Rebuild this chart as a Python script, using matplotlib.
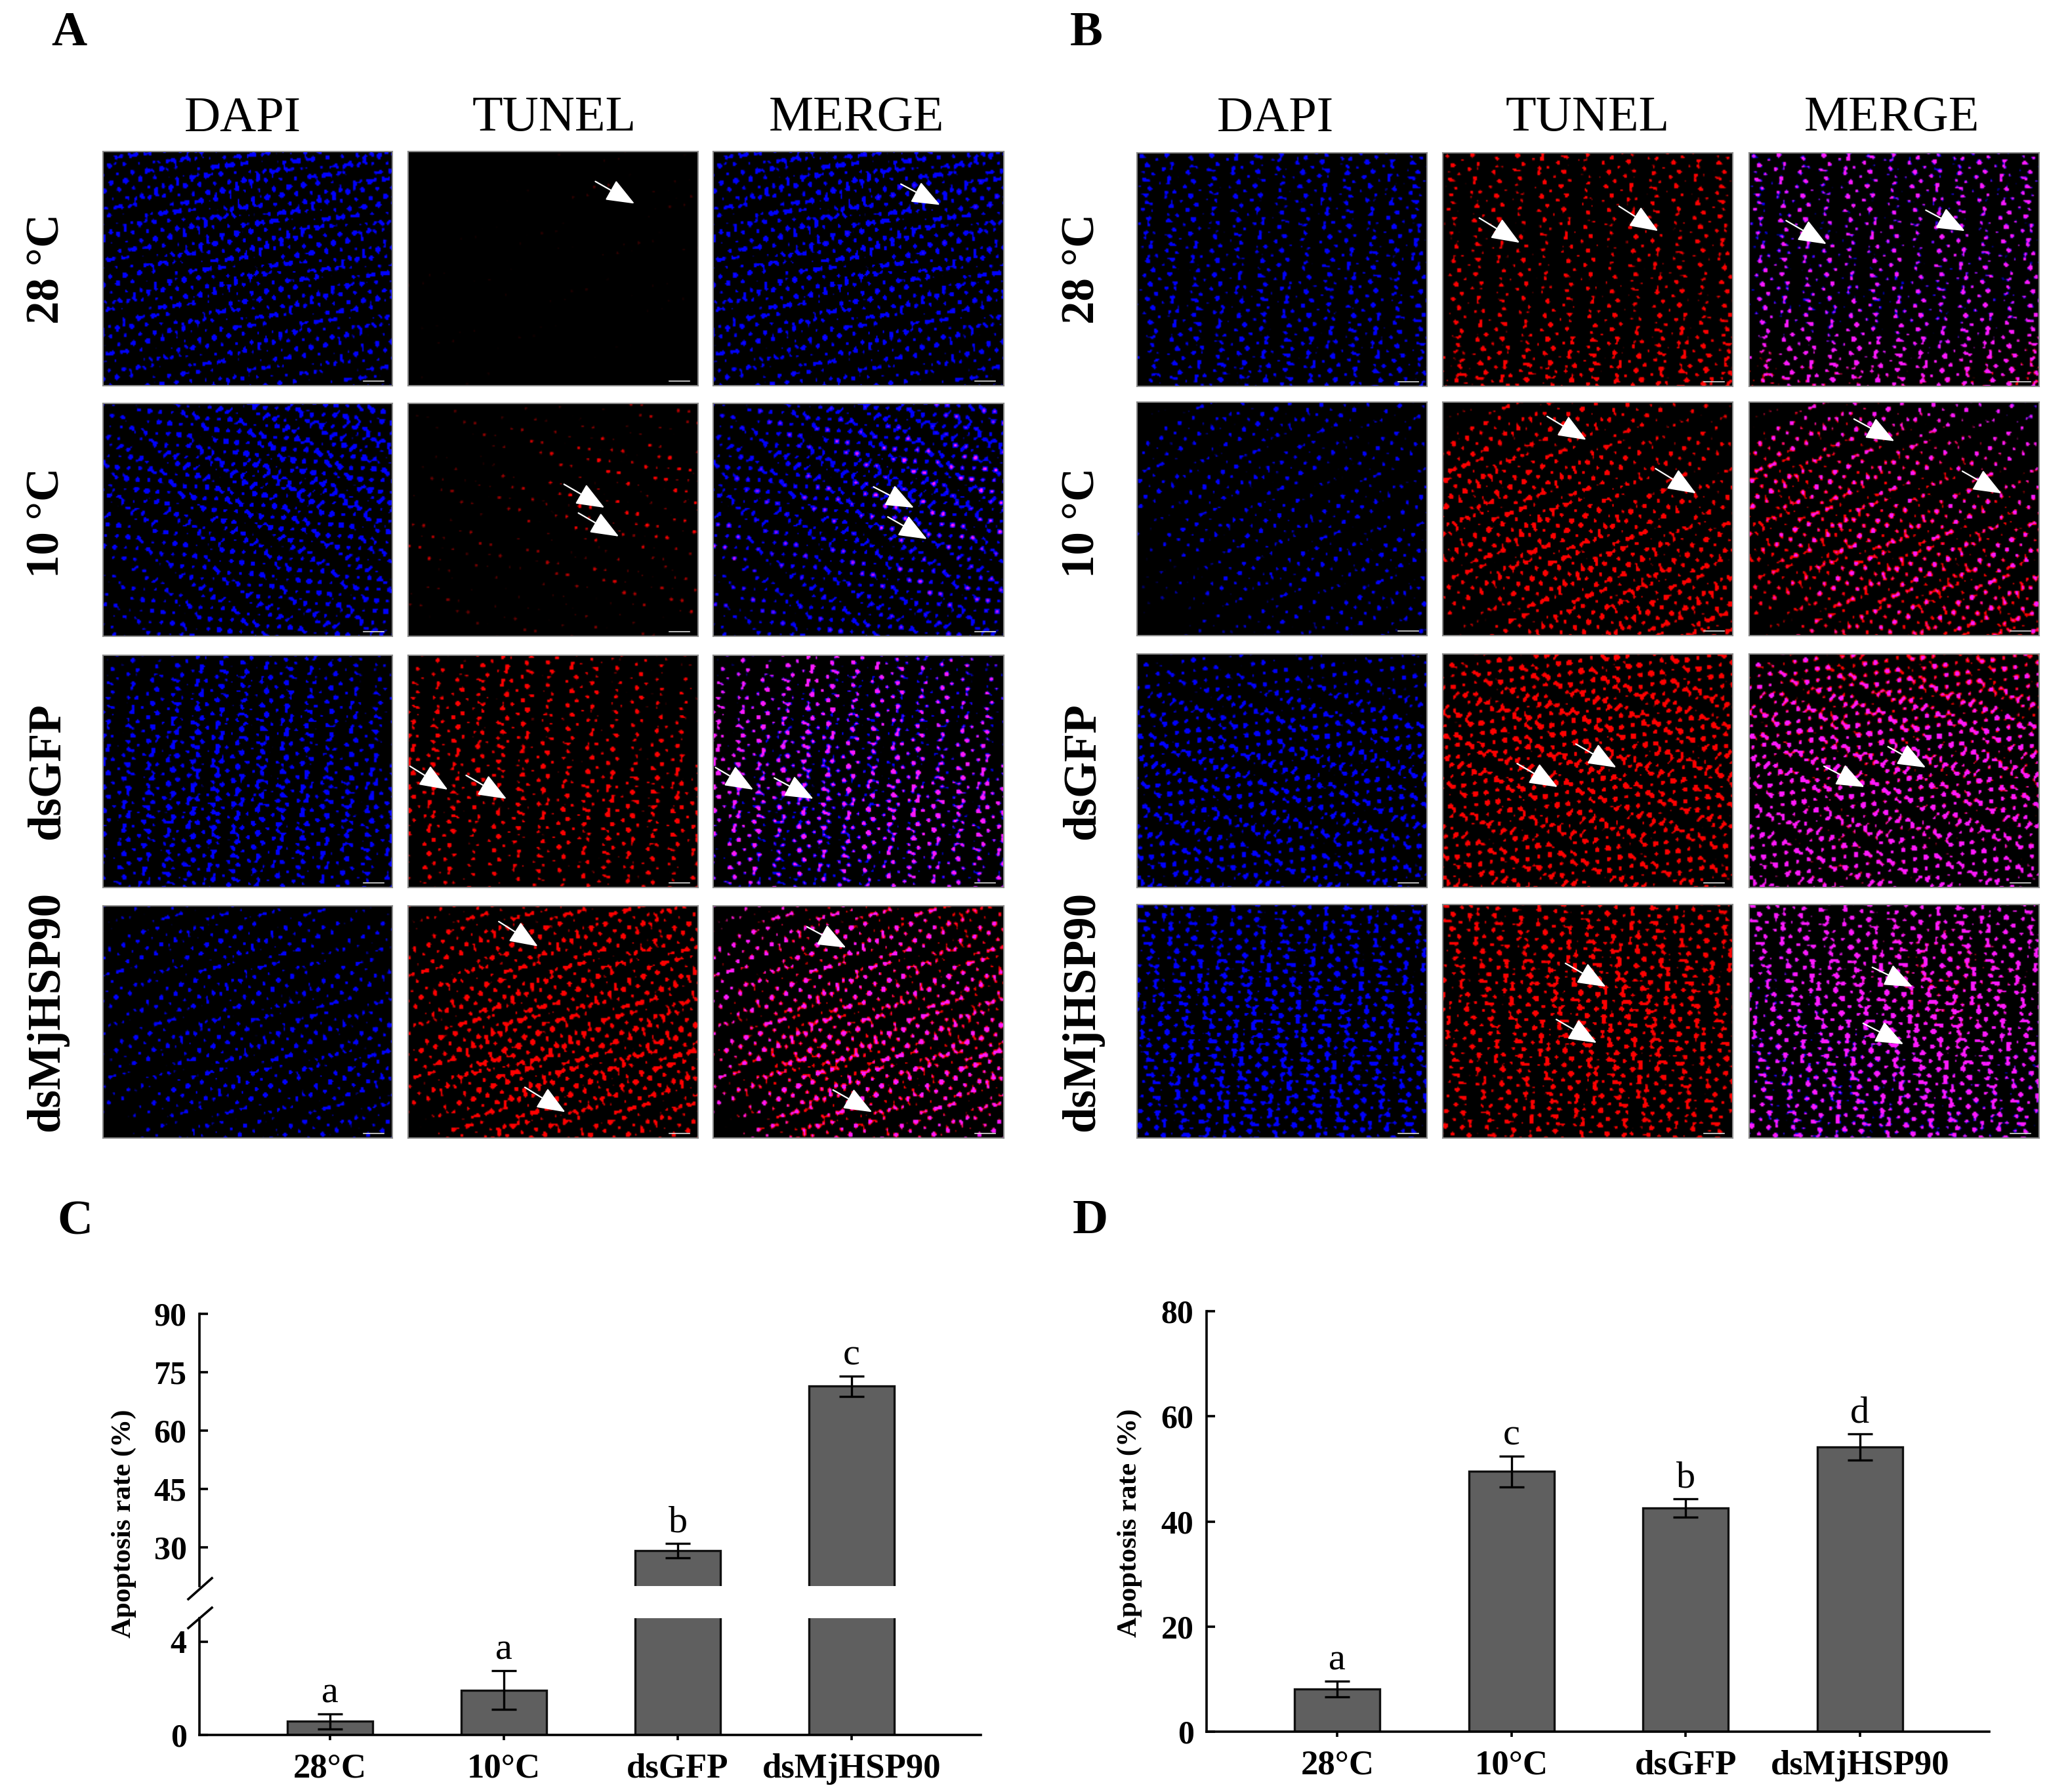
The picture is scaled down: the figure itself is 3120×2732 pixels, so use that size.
import numpy as np
import matplotlib
matplotlib.use("Agg")
import matplotlib.pyplot as plt

plt.rcParams['font.family'] = ['Liberation Serif', 'DejaVu Serif']

WIDTH = 3120
HEIGHT = 2732

# Bar chart values
groups = ["28°C", "10°C", "dsGFP", "dsMjHSP90"]
ratesC = [0.58, 1.92, 29.1, 71.4]
errorsC = [0.33, 0.82, 1.9, 2.6]
lettersC = ["a", "a", "b", "c"]
ratesD = [8.1, 49.5, 42.5, 54.2]
errorsD = [1.45, 2.9, 1.75, 2.5]
lettersD = ["a", "c", "b", "d"]

rowNames = ["28 °C", "10 °C", "dsGFP", "dsMjHSP90"]
columnNames = ["DAPI", "TUNEL", "MERGE"]

# Coarse signal level of each micrograph (4x4 blocks, top to bottom), estimated by eye
dapiA = [
    [[.35, .5, .5, .5], [.3, .5, .5, .4], [.35, .4, .4, .4], [.3, .3, .25, .25]],
    [[.1, .4, .5, .55], [.4, .5, .6, .55], [.2, .3, .4, .35], [.15, .35, .4, .45]],
    [[.1, .3, .35, .15], [.3, .5, .4, .3], [.35, .55, .5, .45], [.3, .4, .3, .25]],
    [[.1, .25, .2, .1], [.2, .25, .25, .2], [.15, .3, .3, .35], [.05, .2, .2, .2]],
]
tunelA = [
    [[0, 0, .03, .03], [0, .01, .02, .02], [.02, .01, .01, .01], [.01, .01, 0, 0]],
    [[.01, .05, .05, .06], [.03, .06, .12, .12], [.08, .04, .08, .08], [.02, .03, .05, .05]],
    [[.05, .3, .2, .08], [.3, .3, .2, .2], [.3, .25, .35, .35], [.2, .15, .2, .15]],
    [[.1, .3, .35, .35], [.25, .4, .4, .4], [.2, .65, .5, .55], [.03, .4, .3, .2]],
]
dapiB = [
    [[.3, .3, .35, .3], [.3, .25, .25, .3], [.3, .3, .3, .3], [.3, .35, .35, .3]],
    [[.05, .2, .2, .15], [.2, .2, .15, .15], [.05, .2, .2, .2], [0, .1, .15, .2]],
    [[.15, .15, .15, .15], [.4, .45, .45, .4], [.4, .4, .4, .4], [.4, .4, .4, .35]],
    [[.4, .35, .35, .35], [.4, .5, .5, .4], [.4, .55, .55, .4], [.4, .5, .5, .45]],
]
tunelB = [
    [[.2, .25, .25, .25], [.2, .2, .2, .25], [.2, .2, .2, .25], [.45, .4, .4, .45]],
    [[.05, .25, .2, .1], [.45, .4, .25, .2], [.3, .5, .45, .35], [.03, .3, .45, .5]],
    [[.2, .45, .5, .4], [.5, .6, .55, .5], [.4, .45, .45, .45], [.4, .45, .4, .35]],
    [[.4, .35, .35, .35], [.35, .5, .6, .4], [.3, .45, .55, .35], [.35, .35, .4, .35]],
]

# Panel edges in image pixels
columnsA = [(157, 598), (622, 1064), (1087, 1530)]
rowsA = [(231, 588), (615, 970), (999, 1353), (1381, 1735)]
columnsB = [(1733, 2175), (2199, 2641), (2666, 3108)]
rowsB = [(233, 589), (613, 969), (997, 1353), (1379, 1735)]
rowLabelY = [410, 797, 1176, 1542]

# White arrows on the micrographs, tail then tip, in image pixels
arrows = [
    (456, 139, 486, 156), (690, 141, 720, 157),
    (432, 371, 463, 389), (443, 393, 474, 411), (669, 373, 700, 389), (680, 396, 710, 413),
    (314, 587, 343, 605), (357, 594, 388, 612), (548, 588, 577, 605), (593, 596, 623, 612),
    (382, 706, 412, 725), (402, 833, 433, 852), (618, 710, 648, 726), (638, 835, 668, 852),
    (1133, 167, 1164, 186), (1240, 158, 1270, 177), (1368, 169, 1399, 187), (1475, 161, 1505, 177),
    (1185, 319, 1215, 337), (1268, 359, 1299, 378), (1420, 321, 1451, 338), (1503, 361, 1533, 378),
    (1162, 585, 1193, 603), (1207, 570, 1238, 588), (1397, 587, 1428, 603), (1446, 572, 1475, 588),
    (1199, 738, 1230, 756), (1192, 781, 1223, 799), (1434, 741, 1465, 756), (1427, 784, 1458, 800),
]


def box(x0, x1, y0, y1):
    # image pixels (y down) to figure fractions
    return [x0 / WIDTH, 1 - y1 / HEIGHT, (x1 - x0) / WIDTH, (y1 - y0) / HEIGHT]


def figText(x, y, text, **kwargs):
    fig.text(x / WIDTH, 1 - y / HEIGHT, text, ha='center', va='center', **kwargs)


def upscale(levels, rows, cols):
    # bilinear stretch of a 4x4 level map
    levels = np.array(levels, dtype=float)
    old = np.linspace(0, 1, levels.shape[0])
    across = np.array([np.interp(np.linspace(0, 1, cols), old, line) for line in levels])
    return np.array([np.interp(np.linspace(0, 1, rows), old, line) for line in across.T]).T


def dotPattern(rows, cols, phase):
    # uneven dot screen, ranked so that a level of 0.3 lights 30% of the pixels
    yy, xx = np.mgrid[0:rows, 0:cols]
    wave = np.zeros((rows, cols))
    for angle, freq in [(0.3, 0.83), (1.1, 0.97), (1.9, 0.71), (2.6, 1.13), (0.8, 0.37)]:
        wave += np.sin((xx * np.cos(angle + phase) + yy * np.sin(angle + phase)) * freq + 3 * phase)
    ranks = wave.ravel().argsort().argsort().reshape(wave.shape)
    return ranks / ranks.size


def halftone(levels, pattern):
    rows, cols = pattern.shape
    return np.clip((upscale(levels, rows, cols) * 0.42 - pattern) * 30, 0, 1)


def drawPanel(x, y, red, blue):
    ax = fig.add_axes(box(x[0], x[1], y[0], y[1]))
    ax.set_facecolor('black')
    image = np.zeros(red.shape + (3,))
    image[:, :, 0] = red
    image[:, :, 1] = np.minimum(red, blue) * 0.1
    image[:, :, 2] = blue
    ax.imshow(image, aspect='auto', interpolation='bilinear', extent=(0, 1, 0, 1))
    # scale bar
    ax.plot([0.9, 0.97], [0.02, 0.02], color='#dddddd', lw=1.2)
    ax.set_xlim(0, 1)
    ax.set_ylim(0, 1)
    ax.set_xticks([])
    ax.set_yticks([])
    for spine in ax.spines.values():
        spine.set_color('#8a8a8a')
        spine.set_linewidth(1.5)


def drawBlock(columns, rows, dapi, tunel, labelX, titleCenters, phase):
    for c, name in enumerate(columnNames):
        figText(titleCenters[c], 181, name, fontsize=55)
    for r, name in enumerate(rowNames):
        figText(labelX, rowLabelY[r], name, fontsize=51, fontweight='bold', rotation=90)
        pattern = dotPattern(178, 221, phase + r)
        blue = halftone(dapi[r], pattern)
        red = halftone(tunel[r], pattern)
        zeros = np.zeros(pattern.shape)
        drawPanel(columns[0], rows[r], zeros, blue)
        drawPanel(columns[1], rows[r], red, zeros)
        drawPanel(columns[2], rows[r], red, blue)


def styleAxis(ax):
    ax.spines['top'].set_visible(False)
    ax.spines['right'].set_visible(False)
    ax.spines['left'].set_linewidth(2.6)
    ax.spines['bottom'].set_linewidth(2.6)
    ax.tick_params(axis='y', direction='in', length=9, width=2.6, labelsize=36, pad=14)
    ax.tick_params(axis='x', direction='out', length=6, width=2.6, labelsize=38, pad=14)
    for label in ax.get_yticklabels() + ax.get_xticklabels():
        label.set_fontweight('bold')


def drawBars(ax, rates, errors):
    positions = np.arange(len(rates))
    ax.bar(positions, rates, width=0.49, color='#5f5f5f', edgecolor='#111111', linewidth=2.4)
    ax.errorbar(positions, rates, yerr=errors, fmt='none', ecolor='black', elinewidth=2.4,
                capsize=13.5, capthick=2.4)
    ax.set_xlim(-0.751, 3.743)


def addLetters(ax, rates, errors, letters):
    for i, letter in enumerate(letters):
        ax.annotate(letter, (i, rates[i] + errors[i]), xytext=(0, 4), textcoords='offset points',
                    ha='center', va='bottom', fontsize=42, annotation_clip=False)


fig = plt.figure(figsize=(WIDTH / 100, HEIGHT / 100), dpi=100, facecolor='white')

# Micrograph blocks
drawBlock(columnsA, rowsA, dapiA, tunelA, 72, [370, 845, 1305], 0.4)
drawBlock(columnsB, rowsB, dapiB, tunelB, 1650, [1944, 2420, 2883], 2.3)

# Arrows sit on a clear overlay covering the whole figure
overlay = fig.add_axes([0, 0, 1, 1], facecolor='none')
overlay.set_xlim(0, WIDTH / 1.99)
overlay.set_ylim(HEIGHT / 1.99, 0)
overlay.axis('off')
for x0, y0, x1, y1 in arrows:
    overlay.annotate("", xy=(x1, y1), xytext=(x0, y0),
                     arrowprops=dict(arrowstyle='-|>,head_length=1.5,head_width=0.6',
                                     color='white', lw=1.6, shrinkA=0, shrinkB=0,
                                     mutation_scale=18))

# Panel letters
for letter, x, y in [("A", 105, 51), ("B", 1656, 51), ("C", 114, 1864), ("D", 1662, 1862)]:
    figText(x, y, letter, fontsize=54, fontweight='bold')

# Chart C, broken y axis
upperC = fig.add_axes(box(304, 1495, 2003, 2418))
lowerC = fig.add_axes(box(304, 1495, 2467, 2645))
drawBars(upperC, ratesC, errorsC)
drawBars(lowerC, ratesC, errorsC)
upperC.set_ylim(20, 90)
lowerC.set_ylim(0, 5)
upperC.set_yticks([30, 45, 60, 75, 90])
lowerC.set_yticks([0, 4])
upperC.set_xticks([])
lowerC.set_xticks(range(len(groups)))
lowerC.set_xticklabels(groups)
styleAxis(upperC)
styleAxis(lowerC)
upperC.spines['bottom'].set_visible(False)
addLetters(upperC, ratesC, errorsC, [""] * 2 + lettersC[2:])
addLetters(lowerC, ratesC[:2], errorsC[:2], lettersC[:2])
# break marks on the axis
for y0, y1 in [(2438, 2406), (2482, 2451)]:
    fig.add_artist(plt.Line2D([287 / WIDTH, 323 / WIDTH], [1 - y0 / HEIGHT, 1 - y1 / HEIGHT],
                              color='black', lw=2.6))
figText(189, 2323, "Apoptosis rate (%)", fontsize=31, fontweight='bold', rotation=90)

# Chart D
axD = fig.add_axes(box(1839, 3032, 1999, 2640))
drawBars(axD, ratesD, errorsD)
axD.set_ylim(0, 80)
axD.set_yticks([0, 20, 40, 60, 80])
axD.set_xticks(range(len(groups)))
axD.set_xticklabels(groups)
styleAxis(axD)
addLetters(axD, ratesD, errorsD, lettersD)
figText(1722, 2322, "Apoptosis rate (%)", fontsize=31, fontweight='bold', rotation=90)

fig.savefig("out.png", dpi=100)
